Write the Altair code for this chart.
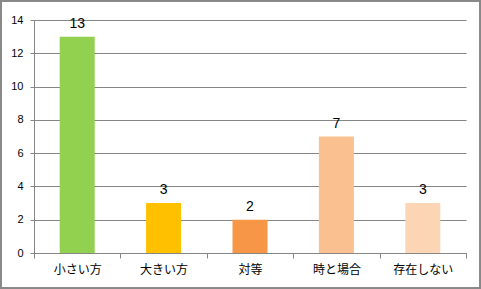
import altair as alt
import pandas as pd

categories = ["小さい方", "大きい方", "対等", "時と場合", "存在しない"]
values = [13, 3, 2, 7, 3]
colors = ["#92D050", "#FFC000", "#F79646", "#FAC090", "#FCD5B5"]

df = pd.DataFrame({"cat": categories, "val": values, "col": colors})

x = alt.X("cat:N", sort=categories, title=None,
          scale=alt.Scale(paddingInner=0, paddingOuter=0),
          axis=alt.Axis(labelAngle=0, labelFont="Noto Sans CJK JP", labelFontSize=12,
                        labelColor="#000000", domainColor="#868686", tickColor="#868686",
                        tickBand="extent", tickSize=5, labelPadding=6, grid=False))
y = alt.Y("val:Q", title=None,
          scale=alt.Scale(domain=[0, 14], nice=False),
          axis=alt.Axis(values=list(range(0, 15, 2)), labelFont="Liberation Sans",
                        labelFontSize=11, labelColor="#000000", domainColor="#868686",
                        tickColor="#868686", tickSize=4, labelPadding=7,
                        gridColor="#868686", gridOpacity=1))

base = alt.Chart(df)
bars = base.mark_bar(size=35).encode(x=x, y=y, color=alt.Color("col:N", scale=None))
labels = base.mark_text(baseline="alphabetic", dy=-9, font="Liberation Sans",
                        fontSize=14, color="#000000").encode(x=x, y=y, text="val:Q")
border = base.mark_rect(fill=None, stroke="#888888", strokeWidth=1.5).encode(
    x=alt.value(-33.25), x2=alt.value(446.25), y=alt.value(-19.25), y2=alt.value(268.25))

chart = alt.layer(bars, labels, border).properties(
    width=432, height=233,
    autosize=alt.AutoSizeParams(type="none"),
    padding={"left": 34, "top": 20, "right": 15, "bottom": 36},
    background="white",
).configure_view(stroke=None)

chart.save("out.html", embed_options={"renderer": "svg", "actions": False})
